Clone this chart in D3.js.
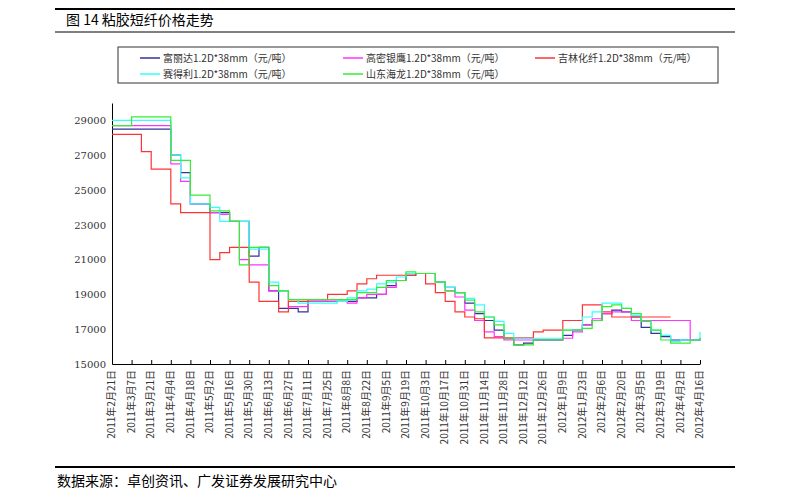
<!DOCTYPE html><html><head><meta charset="utf-8">
<script src="https://cdn.jsdelivr.net/npm/d3@7"></script>
<style>body{margin:0;background:#fff}</style></head><body><svg id="c" width="789" height="500"></svg>
<script>
const tickLabels=["2011年2月21日","2011年3月7日","2011年3月21日","2011年4月4日","2011年4月18日","2011年5月2日","2011年5月16日","2011年5月30日","2011年6月13日","2011年6月27日","2011年7月11日","2011年7月25日","2011年8月8日","2011年8月22日","2011年9月5日","2011年9月19日","2011年10月3日","2011年10月17日","2011年10月31日","2011年11月14日","2011年11月28日","2011年12月12日","2011年12月26日","2012年1月9日","2012年1月23日","2012年2月6日","2012年2月20日","2012年3月5日","2012年3月19日","2012年4月2日","2012年4月16日"];
const seriesNames=["富丽达1.2D*38mm（元/吨）","高密银鹰1.2D*38mm（元/吨）","吉林化纤1.2D*38mm（元/吨）","赛得利1.2D*38mm（元/吨）","山东海龙1.2D*38mm（元/吨）"];
const colors=["#333399","#ff33ff","#ff3333","#33ffff","#33ee33"];
const fulida=[28500,28500,28500,28500,28500,28500,27000,26000,24200,24200,23700,23700,23200,23200,21200,21700,19200,18200,18200,18000,18600,18600,18600,18600,18600,18800,18800,19000,19500,19800,20100,
20200,20200,19700,19400,19100,18500,17900,17500,16950,16450,16100,16200,16380,16380,16380,16650,16950,17250,17500,17900,18100,18000,17700,17100,16760,16570,16380,16380,16380,16480];
const gaomi=[28700,28700,28700,28700,28700,28700,26500,25500,24200,24200,23700,23600,23200,21000,20700,20700,19200,19200,18300,18300,18600,18600,18600,18600,18500,18800,19000,19000,19400,19800,20200,
20200,20200,19700,19200,18850,18100,17500,16850,16570,16380,16380,16380,16380,16380,16380,16480,16850,17250,17600,17900,18000,18000,17500,17500,17500,17500,17500,17500,16380,16480];
const jilin=[28200,28200,28200,27200,26200,26200,24200,23700,23700,23700,21000,21400,21700,21700,19700,18600,18600,18000,18600,18600,18700,18700,19000,19000,19200,19600,19900,20100,20100,20100,20100,
20200,19600,19100,18600,18000,17700,17600,16500,16500,16500,16500,16500,16850,16950,16950,17500,17500,18400,18400,18000,17700,17700,17700,17700,17700,17700,17700,null,null,null];
const saideli=[29000,29000,29000,29000,29000,29000,27000,25700,24200,24200,24000,23200,23200,23200,21600,21600,19700,19200,18700,18500,18500,18500,18500,18600,18800,19200,19300,19600,19700,20000,20200,
20200,20200,19700,19400,19100,18770,18400,17700,17450,16760,16480,16480,16480,16480,16480,16950,16950,17700,18000,18500,18500,18200,17800,17450,16950,16650,16290,16380,16380,16850];
const hailong=[28700,28700,29200,29200,29200,29200,26700,26700,24700,24700,23800,23800,23200,20700,21700,21700,19500,19200,18700,18700,18700,18700,18700,18700,18700,19100,19100,19400,19800,19800,20300,
20200,20200,19700,19200,19100,18670,18000,17700,17250,16480,16100,16100,16380,16380,16380,16950,16950,17050,17500,18300,18400,18200,17900,17450,16950,16380,16200,16200,16380,16480];
const yTicks=[15000,17000,19000,21000,23000,25000,27000,29000];
const all=[fulida,gaomi,jilin,saideli,hailong];
const svg=d3.select("#c");
const F="'Noto Sans CJK SC','DejaVu Serif',serif";
svg.append("line").attr("x1",55).attr("x2",735).attr("y1",9).attr("y2",9).attr("stroke","#000").attr("stroke-width",2);
svg.append("line").attr("x1",55).attr("x2",735).attr("y1",32).attr("y2",32).attr("stroke","#000").attr("stroke-width",1);
svg.append("text").attr("x",66).attr("y",25).attr("font-size",14).attr("font-family",F).text("图 14 粘胶短纤价格走势");
svg.append("line").attr("x1",55).attr("x2",735).attr("y1",467).attr("y2",467).attr("stroke","#000").attr("stroke-width",2);
svg.append("text").attr("x",57).attr("y",486).attr("font-size",14).attr("font-family",F).text("数据来源：卓创资讯、广发证券发展研究中心");
// legend
svg.append("rect").attr("x",118).attr("y",47).attr("width",600).attr("height",36).attr("fill","none").attr("stroke","#333");
const lp=[[140,58],[343,58],[535,58],[140,74],[343,74]];
seriesNames.forEach((n,i)=>{const[x,y]=lp[i];
 svg.append("line").attr("x1",x).attr("x2",x+20).attr("y1",y).attr("y2",y).attr("stroke",colors[i]).attr("stroke-width",1.5);
 svg.append("text").attr("x",x+23).attr("y",y+4).attr("font-size",10).attr("font-family",F).attr("fill","#333").text(n);});
const x=d3.scaleLinear().domain([0,60]).range([112,700]);
const y=d3.scaleLinear().domain([15000,30000]).range([364,103]);
const ax=svg.append("g").attr("transform","translate(0,364)").call(d3.axisBottom(x).tickValues(d3.range(0,61,2)).tickFormat((d)=>tickLabels[d/2]).tickSize(-4).tickSizeOuter(0));
ax.select(".domain").attr("stroke","#000");
ax.selectAll("text").attr("font-family",F).attr("font-size",10).attr("fill","#333").attr("transform","rotate(-90)").attr("text-anchor","end").attr("dx","-8").attr("dy","-0.5em").attr("x",0).attr("y",0).style("dominant-baseline","middle").attr("dy",0).attr("dx",-6);
const ay=svg.append("g").attr("transform","translate(112,0)").call(d3.axisLeft(y).tickValues(yTicks).tickFormat(d3.format("d")).tickSize(0).tickPadding(6));
ay.select(".domain").attr("stroke","#000");
ay.selectAll("text").attr("font-family","'DejaVu Serif',serif").attr("font-size",10).attr("fill","#333");
const line=d3.line().defined(d=>d!=null).x((d,i)=>x(i)).y(d=>y(d)).curve(d3.curveStepAfter);
all.forEach((s,i)=>svg.append("path").datum(s).attr("d",line).attr("fill","none").attr("stroke",colors[i]).attr("stroke-width",1.2));
</script></body></html>
